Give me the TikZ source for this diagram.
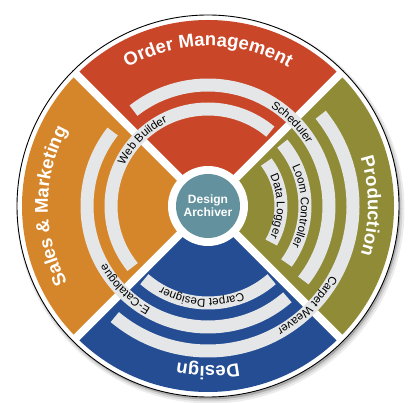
\documentclass[tikz,border=0pt]{standalone}
\usepackage{fontspec}
\setmainfont{Liberation Sans}
\usetikzlibrary{decorations.text}
\definecolor{omred}{HTML}{CA4628}
\definecolor{smorange}{HTML}{D6862A}
\definecolor{prolive}{HTML}{8F8B36}
\definecolor{dsblue}{HTML}{244D94}
\definecolor{archteal}{HTML}{63929E}
\definecolor{bandgray}{HTML}{E5E6E8}
\newcommand{\lblfont}{\fontsize{11.5}{13}\selectfont}
\newcommand{\ttlfont}{\fontsize{18.5}{20}\selectfont\bfseries}
\begin{document}
\begin{tikzpicture}[
  band/.style={draw=bandgray, line width=13pt},
  lbl/.style={decorate, decoration={text along path, text align=center, text={|\lblfont|#1}}},
  ttl/.style={decorate, decoration={text along path, text align=center, text color=white, text={|\ttlfont|#1}}},
  gapline/.style={draw=white, line width=8pt}
]
\useasboundingbox (-208pt,-197pt) rectangle (201pt,206pt);
% shadow
\fill[black!60, opacity=0.12] (2.5pt,-3.5pt) circle[radius=194pt];
\fill[black!60, opacity=0.18] (2pt,-3pt) circle[radius=192.5pt];
\fill[black!70, opacity=0.3] (1.5pt,-2.5pt) circle[radius=191pt];
% outer disc
\draw[line width=0.9pt, fill=white] (0,0) circle[radius=191pt];
% sectors
\fill[omred] (0,0) -- (45:186pt) arc[start angle=45, end angle=135, radius=186pt] -- cycle;
\fill[smorange] (0,0) -- (135:186pt) arc[start angle=135, end angle=225, radius=186pt] -- cycle;
\fill[dsblue] (0,0) -- (225:186pt) arc[start angle=225, end angle=315, radius=186pt] -- cycle;
\fill[prolive] (0,0) -- (-45:186pt) arc[start angle=-45, end angle=45, radius=186pt] -- cycle;
% gaps
\draw[gapline] (-133pt,-133pt) -- (133pt,133pt);
\draw[gapline] (-133pt,133pt) -- (133pt,-133pt);
\fill[white] (0,0) circle[radius=40pt];
% bands
\draw[band] (128:121pt) arc[start angle=128, end angle=-38, radius=121pt];
\draw[band] (219:97pt) arc[start angle=219, end angle=50, radius=97pt];
\draw[band] (311:121pt) arc[start angle=311, end angle=142, radius=121pt];
\draw[band] (399:145pt) arc[start angle=399, end angle=230, radius=145pt];
\draw[band] (37:73pt) arc[start angle=37, end angle=-30, radius=73pt];
\draw[band] (40:97pt) arc[start angle=40, end angle=-36, radius=97pt];
\draw[band] (311:97pt) arc[start angle=311, end angle=229, radius=97pt];
% band labels
\path[lbl=Scheduler] (85:117pt) arc[start angle=85, end angle=5, radius=117pt];
\path[lbl=Web Builder] (175:93pt) arc[start angle=175, end angle=95, radius=93pt];
\path[lbl=E-Catalogue] (265:117pt) arc[start angle=265, end angle=185, radius=117pt];
\path[lbl=Carpet Weaver] (355:141pt) arc[start angle=355, end angle=275, radius=141pt];
\path[lbl=Data Logger] (45:69pt) arc[start angle=45, end angle=-45, radius=69pt];
\path[lbl=Loom Controller] (45:93pt) arc[start angle=45, end angle=-45, radius=93pt];
\path[lbl=Carpet Designer] (306:93pt) arc[start angle=306, end angle=226, radius=93pt];
% titles
\path[ttl=Order Management] (150:160pt) arc[start angle=150, end angle=30, radius=160pt];
\path[ttl=Production] (60:160pt) arc[start angle=60, end angle=-60, radius=160pt];
\path[ttl=Design] (330:160pt) arc[start angle=330, end angle=210, radius=160pt];
\path[ttl=Sales {\&} Marketing] (240:160pt) arc[start angle=240, end angle=120, radius=160pt];
% center
\node[name=arch, circle, fill=archteal, minimum size=64pt, inner sep=0pt, text=white,
  font=\fontsize{12}{13}\selectfont\bfseries, align=center] at (0,0) {Design\\Archiver};
\end{tikzpicture}
\end{document}
